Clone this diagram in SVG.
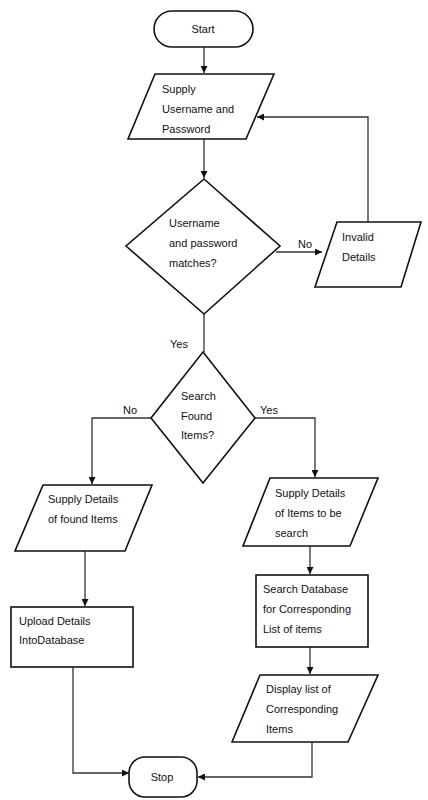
<svg xmlns="http://www.w3.org/2000/svg" width="428" height="800" viewBox="0 0 428 800">
<defs>
<style>
.shape{fill:#fff;stroke:#111;stroke-width:1.6;stroke-linejoin:miter}
.conn{fill:none;stroke:#333;stroke-width:1.3}
text{font-family:"Liberation Sans",Arial,sans-serif;font-size:11px;fill:#111}
.c{text-anchor:middle}
</style>
<marker id="arr" viewBox="0 0 10 10" refX="10" refY="5" markerWidth="7" markerHeight="7" orient="auto" markerUnits="userSpaceOnUse">
<path d="M0,0 L10,5 L0,10 z" fill="#111"/>
</marker>
</defs>
<rect width="428" height="800" fill="#fff"/>

<g id="connectors">
<path class="conn" d="M204,47 V73" marker-end="url(#arr)"/>
<path class="conn" d="M204,139 V178" marker-end="url(#arr)"/>
<path class="conn" d="M276,252 H322" marker-end="url(#arr)"/>
<path class="conn" d="M368,222 V117 H257" marker-end="url(#arr)"/>
<path class="conn" d="M204,314 V352"/>
<path class="conn" d="M151,418 H92 V484" marker-end="url(#arr)"/>
<path class="conn" d="M255,418 H315 V477" marker-end="url(#arr)"/>
<path class="conn" d="M85,551 V606" marker-end="url(#arr)"/>
<path class="conn" d="M310,546 V574" marker-end="url(#arr)"/>
<path class="conn" d="M310,647 V674" marker-end="url(#arr)"/>
<path class="conn" d="M73,667 V773 H129" marker-end="url(#arr)"/>
<path class="conn" d="M312,742 V777 H198" marker-end="url(#arr)"/>
</g>

<g id="start">
<rect class="shape" x="154" y="11" width="99" height="36" rx="18"/>
<text class="c" x="203" y="33">Start</text>
</g>

<g id="supply-login">
<polygon class="shape" points="155,74 274,74 246,139 128,139"/>
<text x="162" y="93">Supply</text>
<text x="162" y="113">Username and</text>
<text x="162" y="133">Password</text>
</g>

<g id="login-check">
<polygon class="shape" points="204,179 280,246 204,314 126,246"/>
<text x="169" y="227">Username</text>
<text x="169" y="247">and password</text>
<text x="169" y="267">matches?</text>
</g>

<g id="invalid">
<polygon class="shape" points="337,222 421,222 401,287 315,287"/>
<text x="342" y="241">Invalid</text>
<text x="342" y="261">Details</text>
</g>

<g id="search-check">
<polygon class="shape" points="203,352 255,418 203,483 151,418"/>
<text x="181" y="400">Search</text>
<text x="181" y="420">Found</text>
<text x="181" y="439">Items?</text>
</g>

<g id="supply-found">
<polygon class="shape" points="43,485 152,485 125,551 15,551"/>
<text x="48" y="503">Supply Details</text>
<text x="48" y="523">of found Items</text>
</g>

<g id="supply-search">
<polygon class="shape" points="270,478 378,478 350,546 243,546"/>
<text x="275" y="497">Supply Details</text>
<text x="275" y="517">of Items to be</text>
<text x="275" y="537">search</text>
</g>

<g id="upload">
<rect class="shape" x="11" y="607" width="122" height="60"/>
<text x="19" y="625">Upload Details</text>
<text x="19" y="644">IntoDatabase</text>
</g>

<g id="search-db">
<rect class="shape" x="256" y="575" width="112" height="72"/>
<text x="263" y="593">Search Database</text>
<text x="263" y="613">for Corresponding</text>
<text x="263" y="633">List of items</text>
</g>

<g id="display">
<polygon class="shape" points="260,675 378,675 348,742 232,742"/>
<text x="266" y="693">Display list of</text>
<text x="266" y="713">Corresponding</text>
<text x="266" y="733">Items</text>
</g>

<g id="stop">
<rect class="shape" x="129" y="757" width="68" height="40" rx="16"/>
<text class="c" x="162" y="781">Stop</text>
</g>

<g id="labels">
<text class="c" x="305" y="248">No</text>
<text class="c" x="179" y="348">Yes</text>
<text class="c" x="130" y="414">No</text>
<text class="c" x="269" y="414">Yes</text>
</g>
</svg>
